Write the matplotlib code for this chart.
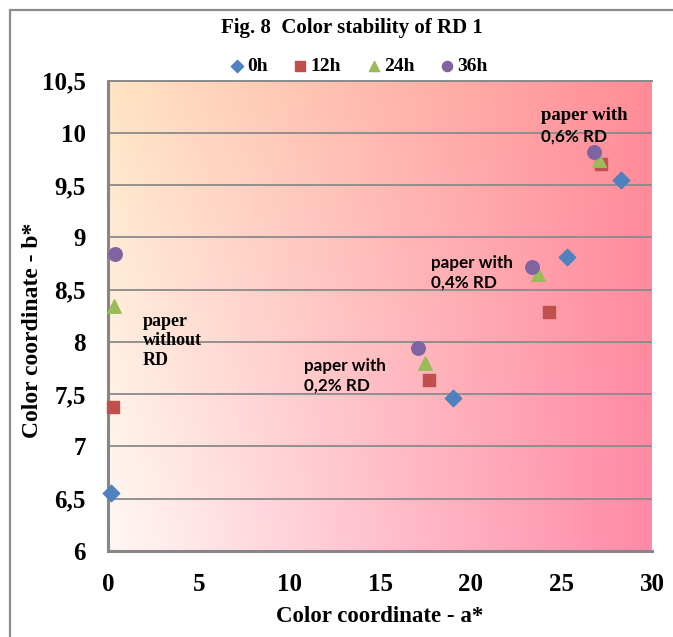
import numpy as np
import matplotlib.pyplot as plt
from matplotlib.patches import Rectangle

# Colour coordinates a* / b* for each ageing time (paper without RD, 0,2%, 0,4%, 0,6% RD)
a_0h = [0.15, 19.05, 25.3, 28.3]
b_0h = [6.55, 7.46, 8.81, 9.55]
a_12h = [0.3, 17.7, 24.3, 27.2]
b_12h = [7.38, 7.64, 8.29, 9.70]
a_24h = [0.35, 17.5, 23.7, 27.1]
b_24h = [8.34, 7.80, 8.65, 9.74]
a_36h = [0.4, 17.1, 23.4, 26.8]
b_36h = [8.84, 7.94, 8.72, 9.82]

series_labels = ["0h", "12h", "24h", "36h"]
y_ticks = [6, 6.5, 7, 7.5, 8, 8.5, 9, 9.5, 10, 10.5]
y_ticklabels = ["6", "6,5", "7", "7,5", "8", "8,5", "9", "9,5", "10", "10,5"]
x_ticks = [0, 5, 10, 15, 20, 25, 30]

serif = "Liberation Serif"
sans = "Lato"

fig = plt.figure(figsize=(6.73, 6.37), dpi=100)
fig.patch.set_facecolor("white")

# outer chart border (right/bottom edges fall outside the picture)
fig.patches.append(Rectangle((10 / 673, -0.05), 1.1, 1 - 10 / 637 + 0.05,
                             transform=fig.transFigure, fill=False,
                             edgecolor="#8c8c8c", linewidth=1.6, zorder=0))

ax = fig.add_axes([108 / 673, (637 - 551) / 637, 544 / 673, 470.5 / 637])

# gradient background of the plot area
tl = np.array([255, 228, 196]) / 255
tr = np.array([255, 140, 150]) / 255
bl = np.array([255, 248, 246]) / 255
br = np.array([255, 137, 168]) / 255
u = np.linspace(0, 1, 200)[None, :, None]
v = np.linspace(0, 1, 200)[:, None, None]
top = tl * (1 - u) + tr * u
bottom = bl * (1 - u) + br * u
grad = top * (1 - v) + bottom * v
ax.imshow(grad, extent=[0, 1, 0, 1], transform=ax.transAxes,
          aspect="auto", zorder=0, origin="upper")

ax.set_xlim(0, 30)
ax.set_ylim(6, 10.5)
ax.set_yticks(y_ticks)
ax.set_yticklabels(y_ticklabels)
ax.set_xticks(x_ticks)
ax.grid(axis="y", color="#8a8a8a", linewidth=1.3, zorder=1)
ax.set_axisbelow(True)

ax.scatter(a_0h, b_0h, marker="D", s=70, color="#4F81BD", label=series_labels[0], zorder=5, clip_on=False)
ax.scatter(a_12h, b_12h, marker="s", s=85, color="#C0504D", label=series_labels[1], zorder=5, clip_on=False)
ax.scatter(a_24h, b_24h, marker="^", s=95, color="#9BBB59", label=series_labels[2], zorder=5, clip_on=False)
ax.scatter(a_36h, b_36h, marker="o", s=95, color="#8064A2", label=series_labels[3], zorder=5, clip_on=False)

for side in ["left", "bottom"]:
    ax.spines[side].set_color("#868686")
    ax.spines[side].set_linewidth(2.2)
ax.spines["top"].set_color("#8a8a8a")
ax.spines["top"].set_linewidth(1.4)
ax.spines["right"].set_visible(False)

ax.tick_params(length=0, labelsize=18, pad=16)
for lab in ax.get_xticklabels() + ax.get_yticklabels():
    lab.set_fontfamily(serif)
    lab.set_fontweight("bold")

fig.text(380 / 673, 1 - 617 / 637, "Color coordinate - a*", ha="center", va="center",
         fontsize=16.5, fontweight="bold", family=serif)
fig.text(33 / 673, 1 - 330 / 637, "Color coordinate - b*", ha="center", va="center",
         rotation=90, fontsize=17, fontweight="bold", family=serif)
fig.text(352 / 673, 1 - 28 / 637, "Fig. 8  Color stability of RD 1", ha="center", va="center",
         fontsize=15, fontweight="bold", family=serif)

fig.legend(loc="center", bbox_to_anchor=(357 / 673, 1 - 66 / 637), ncol=4, frameon=False,
           handletextpad=0.0, columnspacing=1.1, borderpad=0, handlelength=1.1,
           markerscale=0.75,
           prop={"family": serif, "weight": "bold", "size": 14})

# annotations
ax.text(1.93, 8.28, "paper\nwithout\nRD", ha="left", va="top", fontsize=13,
        fontweight="bold", family=serif, linespacing=1.2, zorder=4)
ax.text(10.8, 7.85, "paper with\n0,2% RD", ha="left", va="top", fontsize=12.3,
        fontweight="bold", family=sans, linespacing=1.3, zorder=4)
ax.text(17.8, 8.83, "paper with\n0,4% RD", ha="left", va="top", fontsize=12.3,
        fontweight="bold", family=sans, linespacing=1.3, zorder=4)
ax.text(23.9, 10.25, "paper with", ha="left", va="top", fontsize=13.5,
        fontweight="bold", family=serif, zorder=4)
ax.text(23.9, 10.04, "0,6% RD", ha="left", va="top", fontsize=12.3,
        fontweight="bold", family=sans, zorder=4)

fig.savefig("out.png", dpi=100)
